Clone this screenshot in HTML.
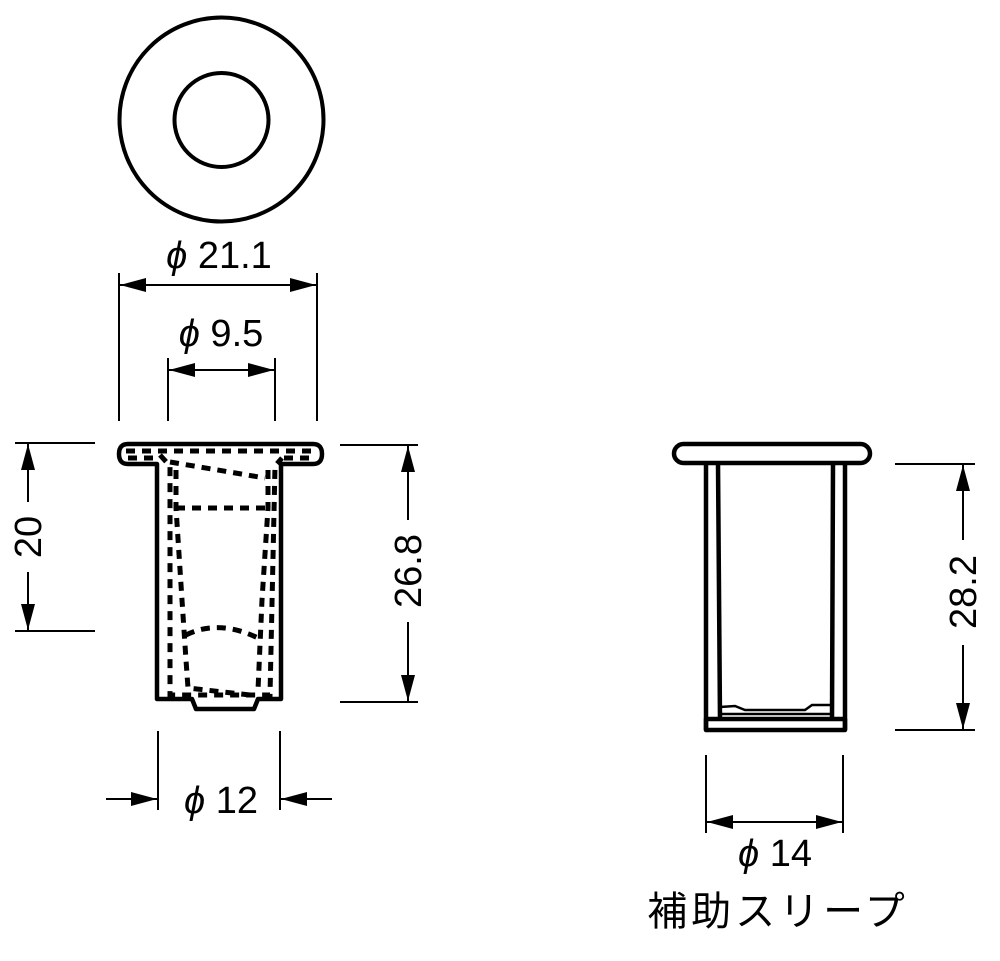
<!DOCTYPE html>
<html><head><meta charset="utf-8"><style>
html,body{margin:0;padding:0;background:#fff;}
svg{display:block;}
text{font-family:"Liberation Sans","Noto Sans CJK JP",sans-serif;fill:#000;}
</style></head><body>
<svg width="1000" height="961" viewBox="0 0 1000 961" xmlns="http://www.w3.org/2000/svg">
<defs>
<marker id="a" viewBox="0 0 26 14" refX="26" refY="7" markerWidth="26" markerHeight="14" markerUnits="userSpaceOnUse" orient="auto"><path d="M0,0 L26,7 L0,14 Z" fill="#000"/></marker>
</defs>
<g fill="none" stroke="#000">
<circle cx="221.5" cy="119.5" r="102" stroke-width="4"/>
<circle cx="221.5" cy="120" r="47" stroke-width="4"/>

<g stroke-width="2">
<line x1="119" y1="273" x2="119" y2="421"/>
<line x1="317" y1="273" x2="317" y2="421"/>
<line x1="122" y1="285" x2="316" y2="285" marker-end="url(#a)"/>
<line x1="314" y1="285" x2="120" y2="285" marker-end="url(#a)"/>
<line x1="168" y1="358" x2="168" y2="421"/>
<line x1="275" y1="358" x2="275" y2="421"/>
<line x1="172" y1="370" x2="274" y2="370" marker-end="url(#a)"/>
<line x1="270" y1="370" x2="169" y2="370" marker-end="url(#a)"/>

<line x1="15" y1="443" x2="95" y2="443"/>
<line x1="15" y1="631" x2="95" y2="631"/>
<line x1="28" y1="502" x2="28" y2="444" marker-end="url(#a)"/>
<line x1="28" y1="572" x2="28" y2="630" marker-end="url(#a)"/>

<line x1="340" y1="445" x2="418" y2="445"/>
<line x1="340" y1="702" x2="418" y2="702"/>
<line x1="408" y1="520" x2="408" y2="446" marker-end="url(#a)"/>
<line x1="408" y1="622" x2="408" y2="701" marker-end="url(#a)"/>

<line x1="158" y1="731" x2="158" y2="810"/>
<line x1="280" y1="731" x2="280" y2="810"/>
<line x1="106" y1="799" x2="157" y2="799" marker-end="url(#a)"/>
<line x1="332" y1="799" x2="281" y2="799" marker-end="url(#a)"/>

<line x1="895" y1="464" x2="975" y2="464"/>
<line x1="895" y1="730" x2="975" y2="730"/>
<line x1="963" y1="540" x2="963" y2="465" marker-end="url(#a)"/>
<line x1="963" y1="645" x2="963" y2="729" marker-end="url(#a)"/>

<line x1="706" y1="755" x2="706" y2="833"/>
<line x1="843" y1="755" x2="843" y2="833"/>
<line x1="709" y1="822" x2="842" y2="822" marker-end="url(#a)"/>
<line x1="840" y1="822" x2="707" y2="822" marker-end="url(#a)"/>
</g>

<g stroke-width="4.5" stroke-linejoin="round">
<path d="M157,464 L128,464 Q119,464 119,454 Q119,444 128,444 L313,444 Q322,444 322,454 Q322,464 313,464 L281,464 L281,699 L258,699 L254,709 L196,709 L192,699 L157,699 Z"/>
</g>
<g stroke-width="5" stroke-dasharray="9,7">
<path d="M126,451 L316,451 M128,458 L160,458 M284,458 L314,458"/>
<path d="M160,455 L170,466 L170,695 L270,695 L275,466 L282,458"/>
<path d="M170,462 L265,478 M176,508 L265,508"/>
<path d="M176,470 L176,508 L182,600 L186,660 L188,688 L250,695"/>
<path d="M268,470 L268,508 L262,600 L258,690"/>
<path d="M186,635 Q220,618 262,640"/>
</g>

<g stroke-width="4.5" stroke-linejoin="round">
<rect x="674" y="444" width="196" height="19" rx="9.5"/>
<line x1="706" y1="463" x2="706" y2="730"/>
<line x1="845" y1="463" x2="845" y2="730"/>
<line x1="718" y1="463" x2="720" y2="720"/>
<line x1="833" y1="463" x2="832" y2="720"/>
<rect x="706" y="719" width="139" height="11"/>
</g>
<g stroke-width="2.5">
<path d="M720,707 L735,706 L745,710 L805,710 L812,705 L832,705"/>
<line x1="720" y1="714" x2="832" y2="714"/>
</g>
</g>

<g font-size="38">
<text x="219" y="268" text-anchor="middle"><tspan font-style="italic">ϕ</tspan> 21.1</text>
<text x="221" y="346" text-anchor="middle"><tspan font-style="italic">ϕ</tspan> 9.5</text>
<text x="221" y="813" text-anchor="middle"><tspan font-style="italic">ϕ</tspan> 12</text>
<text x="775" y="866" text-anchor="middle"><tspan font-style="italic">ϕ</tspan> 14</text>
<text transform="translate(41,537) rotate(-90)" text-anchor="middle">20</text>
<text transform="translate(421,571) rotate(-90)" text-anchor="middle">26.8</text>
<text transform="translate(976,592) rotate(-90)" text-anchor="middle">28.2</text>
<text x="778" y="925" text-anchor="middle" font-size="40" letter-spacing="4">補助スリープ</text>
</g>
</svg>
</body></html>
